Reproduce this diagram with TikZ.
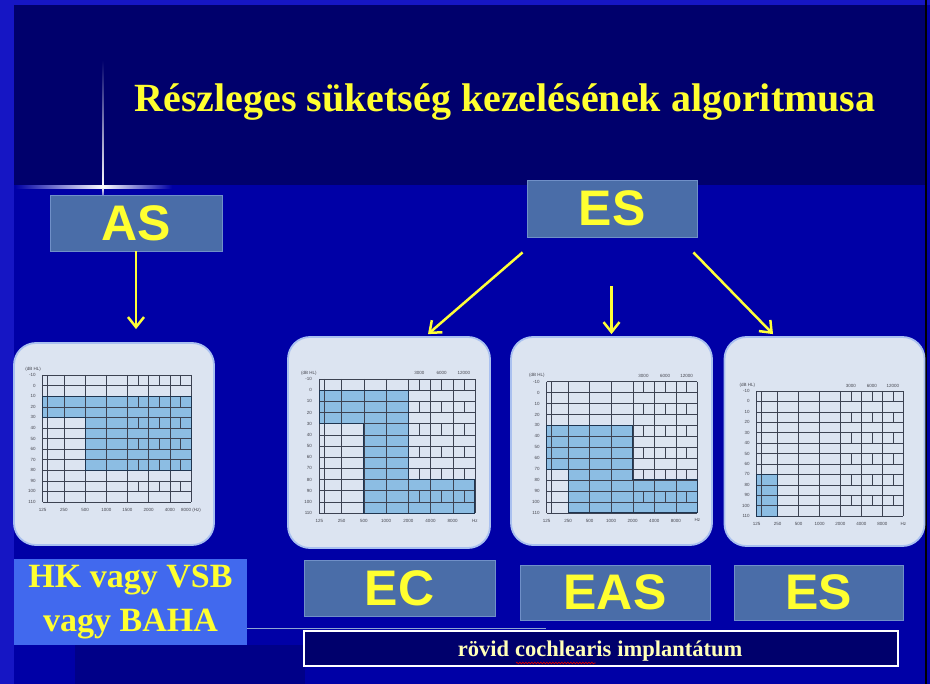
\documentclass[tikz,border=0pt]{standalone}
\usepackage{fontspec}
\setmainfont{Liberation Serif}
\setsansfont{Liberation Sans}
\usetikzlibrary{arrows.meta,decorations.pathmorphing}
\definecolor{bglow}{HTML}{0000A6}
\definecolor{bgtop}{HTML}{00006C}
\definecolor{bgstrip}{HTML}{1616C4}
\definecolor{bgdark}{HTML}{000088}
\definecolor{boxfill}{HTML}{4A6DA8}
\definecolor{boxedge}{HTML}{7090C8}
\definecolor{txtyellow}{HTML}{FFFF30}
\definecolor{arrowyellow}{HTML}{FFFF38}
\definecolor{hkfill}{HTML}{4169EE}
\definecolor{panelfill}{HTML}{DCE4F1}
\definecolor{paneledge}{HTML}{A9C0F0}
\definecolor{shadeblue}{HTML}{8CBDE3}
\definecolor{outlc}{HTML}{1F3550}
\definecolor{gridcol}{HTML}{3C4252}
\definecolor{labcol}{HTML}{45464F}
\definecolor{creamtxt}{HTML}{FFFFB8}
\tikzset{
  lbox/.style={fill=boxfill, draw=boxedge, line width=0.8, inner sep=0, text=txtyellow,
    font=\sffamily\bfseries\fontsize{50}{50}\selectfont},
  panel/.style={fill=panelfill, draw=paneledge, line width=1.8, rounded corners=22, inner sep=0},
  arr/.style={draw=arrowyellow, line width=2.5, -{Straight Barb[length=10pt,width=16pt]}},
  gridc/.style={draw=gridcol, line width=0.45},
  outl/.style={draw=outlc, line width=1.0},
  axlab/.style={text=labcol, inner sep=0.5, font=\sffamily\fontsize{4.5}{5}\selectfont},
  rtxt/.style={text=creamtxt, inner sep=0, font=\rmfamily\bfseries\fontsize{22.5}{24}\selectfont},
}
\newcommand{\toplabs}{\foreach \p/\t in {4.5/3000,5.5/6000,6.5/12000}
  \node[axlab,anchor=south] at (\p,-3) {\t};}
% #1 L, #2 T, #3 col width, #4 px per dB, #5 polygon, #6 bottom labels, #7 extra code
\newcommand{\audiog}[7]{%
\begin{scope}[shift={(#1,#2)}, x=#3pt, y=-#4pt]
  \fill[shadeblue] #5;
  \foreach \d in {0,10,...,120} \draw[gridc] (0,\d) -- (7,\d);
  \foreach \i in {0,...,7} \draw[gridc] (\i,0) -- (\i,120);
  \draw[gridc] (0.2,0) -- (0.2,120);
  \foreach \r in {0,20,...,100} \foreach \m in {4.5,5.5,6.5} \draw[gridc] (\m,\r) -- (\m,\r+10);
  \draw[outl] #5;
  \foreach \v in {-10,0,10,...,110} \node[axlab,anchor=east] at (-0.3,\v+10) {\v};
  \node[axlab,anchor=south west] at (-0.85,-3) {(dB HL)};
  \foreach \lab [count=\k from 0] in {#6} \node[axlab,anchor=north] at (\k,125) {\lab};
  #7
\end{scope}}
\begin{document}
\begin{tikzpicture}[x=1pt,y=-1pt]
\useasboundingbox (0,0) rectangle (930,684);
% background
\fill[bglow] (0,0) rectangle (930,684);
\fill[bgstrip] (0,0) rectangle (14,684);
\fill[bgstrip] (0,0) rectangle (930,5);
\fill[bgtop] (14,5) rectangle (925,185);
\fill[bgdark] (75,645) rectangle (305,684);
\fill[black] (924.5,0) rectangle (926.5,684);
% glow
\shade[left color=bglow, right color=white] (15,185.5) rectangle (103,188.5);
\shade[left color=white, right color=bglow] (103,185.5) rectangle (172,188.5);
\shade[top color=bgtop, bottom color=white] (102.6,60) rectangle (103.6,187);
\shade[top color=white, bottom color=bglow] (102.6,187) rectangle (103.6,202);
% title
\node[anchor=base, text=txtyellow, inner sep=0,
  font=\rmfamily\bfseries\fontsize{40}{44}\selectfont] (title) at (505,112)
  {Részleges süketség kezelésének algoritmusa};
% top boxes
\node[lbox, minimum width=172, minimum height=56] (AS) at (136,223) {AS};
\node[lbox, minimum width=170, minimum height=57] (ES) at (612,208.5) {ES};
% panels
\node[panel, minimum width=200, minimum height=202] (p1) at (114,444) {};
\node[panel, minimum width=202, minimum height=211] (p2) at (389,442.5) {};
\node[panel, minimum width=201, minimum height=208] (p3) at (611.5,441) {};
\node[panel, minimum width=200, minimum height=209] (p4) at (824.5,441.5) {};
% audiograms
\audiog{42.7}{375}{21.19}{1.058}{(0,20)--(7,20)--(7,90)--(2,90)--(2,40)--(0,40)--cycle}
  {125,250,500,1000,1500,2000,4000,8000 (Hz)}{}
\audiog{319.3}{379}{22.24}{1.117}{(0,10)--(4,10)--(4,90)--(7,90)--(7,120)--(2,120)--(2,40)--(0,40)--cycle}
  {125,250,500,1000,2000,4000,8000,Hz}{\toplabs}
\audiog{546.7}{381.7}{21.51}{1.092}{(0,40)--(4,40)--(4,90)--(7,90)--(7,120)--(1,120)--(1,80)--(0,80)--cycle}
  {125,250,500,1000,2000,4000,8000,Hz}{\toplabs}
\audiog{756.7}{391}{20.94}{1.042}{(0,80)--(1,80)--(1,120)--(0,120)--cycle}
  {125,250,500,1000,2000,4000,8000,Hz}{\toplabs}
% arrows
\draw[arr, shorten >=13] (AS.south) -- (AS.south |- p1.north);
\coordinate (l1s) at ([shift={(-4,15)}]ES.south west);
\coordinate (l1e) at ([shift={(39,-2)}]p2.north);
\coordinate (m1s) at ([shift={(0,-50)}]p3.north);
\coordinate (m1e) at ([shift={(0,-2)}]p3.north);
\coordinate (r1s) at ([shift={(-4,15)}]ES.south east);
\coordinate (r1e) at ([shift={(-51.5,-2)}]p4.north);
\draw[arr] (l1s) -- (l1e);
\draw[arr] (m1s) -- (m1e);
\draw[arr] (r1s) -- (r1e);
% bottom boxes
\node[fill=hkfill, minimum width=233, minimum height=85, inner sep=0, align=center,
  text=txtyellow, font=\rmfamily\bfseries\fontsize{34}{44}\selectfont] (HK) at (130.5,602)
  {HK vagy VSB\\vagy BAHA};
\node[lbox, minimum width=191, minimum height=56] (EC) at (399.5,588) {EC};
\node[lbox, minimum width=190, minimum height=55] (EAS) at (615,592.5) {EAS};
\node[lbox, minimum width=169, minimum height=55] (ES2) at (818.5,592.5) {ES};
\draw[draw=boxedge!80!white, line width=0.8] (HK.east |- 0,628.5) -- (546,628.5);
\node[fill=bgtop, draw=white, line width=1.4, minimum width=594, minimum height=35, inner sep=0]
  (rovid) at (601,648.5) {};
\node[rtxt, anchor=base] (w2) at (563.3,656) {cochlearis};
\node[rtxt, anchor=base east] (w1) at ([xshift=-5.6pt]w2.base west) {rövid};
\node[rtxt, anchor=base west] (w3) at ([xshift=5.6pt]w2.base east) {implantátum};
\draw[red!85!black, line width=0.7, decorate, decoration={snake, amplitude=0.8, segment length=3}]
  ([shift={(1,7)}]w2.base west) -- ([shift={(-16,7)}]w2.base east);
\end{tikzpicture}
\end{document}
